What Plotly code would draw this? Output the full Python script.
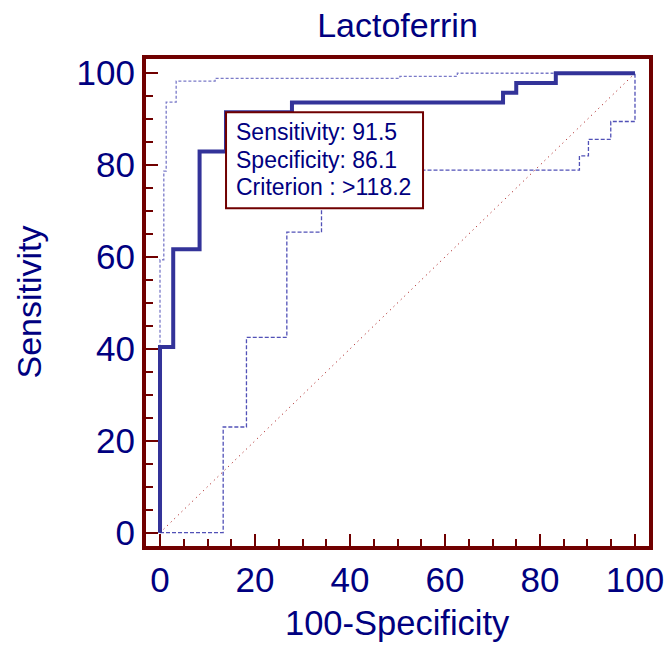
import plotly.graph_objects as go

# ROC curve (100-Specificity vs Sensitivity), step points
roc_fpr = [0, 2.78, 8.33, 13.89, 27.78, 72.22, 75.0, 83.33, 100]
roc_sens = [0, 40.43, 61.70, 82.98, 91.49, 93.62, 95.74, 97.87, 100]

# Upper confidence bound
upper_fpr = [0, 0.8, 1.3, 3.4, 11.6, 50.5, 62.6, 100]
upper_sens = [0, 59.4, 78.7, 93.7, 98.3, 98.9, 99.3, 100]

# Lower confidence bound
lower_fpr = [0, 13.3, 18.2, 26.7, 34.0, 88.3, 90.2, 94.9, 100]
lower_sens = [0, 23.0, 42.5, 65.4, 78.9, 82.0, 85.6, 89.5, 100]

# Reference diagonal
diag = [0, 100]

# Optimal criterion
crit_sens = 91.5
crit_spec = 86.1
crit_value = ">118.2"
box_lines = [f"Sensitivity: {crit_sens}", f"Specificity: {crit_spec}",
             f"Criterion : {crit_value}"]

ticks = [0, 20, 40, 60, 80, 100]

title_text = "Lactoferrin"
x_title = "100-Specificity"
y_title = "Sensitivity"

navy = "#000080"
blue = "#333399"
frame = "#700000"
font_family = "Arial, Liberation Sans, sans-serif"

W, H = 667, 645
ML, MT, MR, MB = 146, 59, 18, 99

fig = go.Figure()

fig.add_trace(go.Scatter(
    x=diag, y=diag, mode="lines",
    line=dict(color="#a00000", width=1, dash="1px,4px"),
    showlegend=False, hoverinfo="skip"))

fig.add_trace(go.Scatter(
    x=upper_fpr, y=upper_sens, mode="lines", line_shape="vh",
    line=dict(color="rgba(51,51,170,0.65)", width=1.3, dash="3px,2px"),
    showlegend=False))

fig.add_trace(go.Scatter(
    x=lower_fpr, y=lower_sens, mode="lines", line_shape="hv",
    line=dict(color="rgba(51,51,170,0.85)", width=1.3, dash="4px,2px"),
    showlegend=False))

fig.add_trace(go.Scatter(
    x=roc_fpr, y=roc_sens, mode="lines", line_shape="vh",
    line=dict(color=blue, width=4),
    showlegend=False))

# Criterion box anchored at the criterion point
fig.add_shape(
    type="rect", layer="above",
    xref="x", yref="y",
    xsizemode="pixel", ysizemode="pixel",
    xanchor=100 - crit_spec, yanchor=crit_sens,
    x0=0, x1=197, y0=-96, y1=0,
    fillcolor="white", line=dict(color=frame, width=2))

for i, line in enumerate(box_lines):
    fig.add_annotation(
        x=100 - crit_spec, y=crit_sens, xref="x", yref="y",
        xanchor="left", yanchor="middle", showarrow=False,
        xshift=8, yshift=-(20 + 27.5 * i),
        text=line,
        font=dict(family=font_family, size=23, color=navy))

# Axis titles
fig.add_annotation(
    x=0.5, y=0, xref="paper", yref="paper",
    xanchor="center", yanchor="middle", yshift=-77, showarrow=False,
    text=x_title, font=dict(family=font_family, size=34.5, color=navy))
fig.add_annotation(
    x=0, y=0.5, xref="paper", yref="paper",
    xanchor="center", yanchor="middle", xshift=-118, showarrow=False,
    textangle=-90,
    text=y_title, font=dict(family=font_family, size=34, color=navy))

axis_common = dict(
    showline=True, linecolor=frame, linewidth=4, mirror=True,
    showgrid=False, zeroline=False, automargin=False,
    tickmode="array", tickvals=ticks,
    ticks="inside", ticklen=12, tickwidth=2, tickcolor=frame,
    tickfont=dict(family=font_family, size=35, color=navy),
    minor=dict(dtick=5, ticks="inside", ticklen=7, tickwidth=2,
               tickcolor=frame, showgrid=False),
)

fig.update_layout(
    width=W, height=H,
    margin=dict(l=ML, r=MR, t=MT, b=MB),
    paper_bgcolor="white", plot_bgcolor="white",
    title=dict(text=title_text, x=0.5, xref="paper", xanchor="center",
               y=1 - 25 / H, yanchor="middle",
               font=dict(family=font_family, size=34, color=navy)),
    xaxis=dict(range=[-2.95, 102.95], **axis_common),
    yaxis=dict(range=[-2.9, 103.1], **axis_common),
)

fig.write_html(
    "out.html",
    config={"displayModeBar": False},
    post_script="document.body.style.margin='0';"
                "document.body.style.overflow='hidden';")
